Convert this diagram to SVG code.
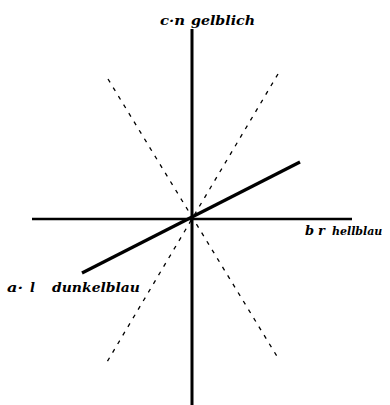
<svg xmlns="http://www.w3.org/2000/svg" width="390" height="405" viewBox="0 0 390 405">
<style>
.axis{stroke:#000;stroke-width:3;fill:none;stroke-linecap:butt}
.thick{stroke:#000;stroke-width:3.2;fill:none}
.dash{stroke:#000;stroke-width:1.3;fill:none;stroke-dasharray:4 6}
.lbl{font-family:"DejaVu Serif","Liberation Serif",serif;font-style:italic;font-weight:bold;font-size:13px;fill:#000}
</style>
<rect width="390" height="405" fill="#fff"/>
<g id="connectors">
<line class="axis" x1="192" y1="29" x2="192" y2="405"/>
<line class="axis" x1="32" y1="219" x2="352" y2="219" style="stroke-width:2.6"/>
<line class="thick" x1="82" y1="273" x2="300" y2="162"/>
<line class="dash" x1="108" y1="79" x2="278" y2="358"/>
<line class="dash" x1="278" y1="74" x2="107" y2="362"/>
</g>
<g id="label-c">
<text class="lbl"><tspan x="160" y="25" textLength="25" lengthAdjust="spacingAndGlyphs">c·n</tspan><tspan x="191" y="25" textLength="64" lengthAdjust="spacingAndGlyphs">gelblich</tspan></text>
</g>
<g id="label-b">
<text class="lbl"><tspan x="305" y="235">b</tspan><tspan x="318" y="235">r</tspan><tspan x="332" y="235" style="font-size:11px">hellblau</tspan></text>
</g>
<g id="label-a">
<text class="lbl"><tspan x="7" y="292" textLength="16" lengthAdjust="spacingAndGlyphs">a·</tspan><tspan x="30" y="292">l</tspan><tspan x="52" y="292" textLength="88" lengthAdjust="spacingAndGlyphs">dunkelblau</tspan></text>
</g>
</svg>
